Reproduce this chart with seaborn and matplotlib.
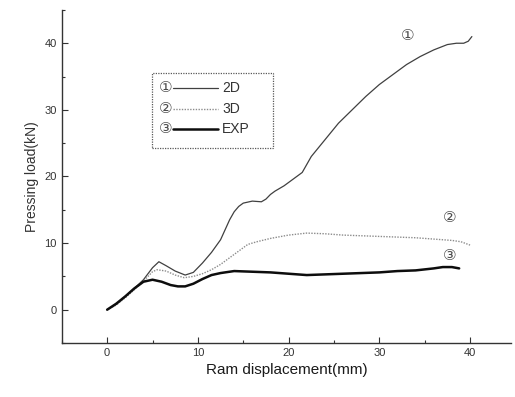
import numpy as np
import pandas as pd
import matplotlib
matplotlib.use("Agg")
import matplotlib.pyplot as plt
import seaborn as sns
from matplotlib.ticker import MultipleLocator
from matplotlib.patches import Rectangle
from matplotlib.lines import Line2D

# 2D simulation
x_2d = [0, 1, 2, 3, 4, 5, 5.7, 6.5, 7.5, 8.6, 9.5, 10.5, 11.5, 12.5, 13, 13.5, 14, 14.5, 15,
        16, 17, 17.5, 18, 18.5, 19.5, 20.5, 21.5, 22.5, 24, 25.5, 27, 28.5, 30, 31.5, 33,
        34.5, 36, 37.5, 38.5, 39.3, 39.8, 40.2]
y_2d = [0, 0.8, 2, 3.2, 4.5, 6.3, 7.2, 6.6, 5.8, 5.2, 5.6, 7, 8.6, 10.5, 12, 13.5, 14.7, 15.5,
        16, 16.3, 16.2, 16.6, 17.3, 17.8, 18.6, 19.6, 20.6, 23, 25.5, 28, 30, 32, 33.8, 35.3,
        36.8, 38, 39, 39.8, 40, 40, 40.3, 41]
# 3D simulation
x_3d = [0, 1, 2, 3, 4, 5, 5.5, 6.5, 7.5, 8.5, 9.5, 10.5, 11.5, 12.5, 13.5, 14.5, 15.5, 16.5,
        18, 20, 22, 24, 26, 28, 30, 32, 34, 36, 38, 39, 40]
y_3d = [0, 0.7, 1.8, 3, 4.3, 5.7, 6, 5.8, 5.2, 4.8, 5, 5.4, 6, 6.8, 7.8, 8.8, 9.8, 10.2,
        10.7, 11.2, 11.5, 11.4, 11.2, 11.1, 11, 10.9, 10.8, 10.6, 10.4, 10.2, 9.7]
# experiment
x_exp = [0, 1, 2, 3, 4, 5, 6, 7, 7.8, 8.6, 9.5, 10.5, 11.5, 12.5, 14, 16, 18, 20, 22, 24,
         26, 28, 30, 32, 34, 36, 37, 38, 38.8]
y_exp = [0, 0.9, 2, 3.2, 4.2, 4.5, 4.2, 3.7, 3.5, 3.5, 3.9, 4.6, 5.2, 5.5, 5.8, 5.7, 5.6, 5.4,
         5.2, 5.3, 5.4, 5.5, 5.6, 5.8, 5.9, 6.2, 6.4, 6.4, 6.2]

labels = ["2D", "3D", "EXP"]
marks = ["\u2460", "\u2461", "\u2462"]

sns.set_style("ticks")
plt.rcParams['font.family'] = ['Liberation Sans', 'DejaVu Sans']

fig = plt.figure(figsize=(5.15, 3.97), dpi=100)
ax = fig.add_axes([0.120, 0.136, 0.872, 0.839])

styles = [dict(color="0.25", lw=0.9, ls="-"),
          dict(color="0.55", lw=1.0, ls=(0, (1, 1))),
          dict(color="0.05", lw=1.8, ls="-")]

for xs, ys, st in zip([x_2d, x_3d, x_exp], [y_2d, y_3d, y_exp], styles):
    sns.lineplot(x=xs, y=ys, sort=False, ax=ax, **st)

ax.set_xlim(-5, 44.5)
ax.set_ylim(-5, 45)
ax.xaxis.set_major_locator(MultipleLocator(10))
ax.xaxis.set_minor_locator(MultipleLocator(5))
ax.yaxis.set_major_locator(MultipleLocator(10))
ax.yaxis.set_minor_locator(MultipleLocator(5))
ax.tick_params(which="both", direction="in", colors="0.2", labelsize=8, width=0.8)
ax.tick_params(which="major", length=4)
ax.tick_params(which="minor", length=2)
sns.despine(ax=ax)
for sp in ["left", "bottom"]:
    ax.spines[sp].set_linewidth(1.0)
    ax.spines[sp].set_color("0.2")

ax.set_xlabel("Ram displacement(mm)", fontsize=11, color="0.1")
ax.set_ylabel("Pressing load(kN)", fontsize=10, color="0.2")

# curve labels
for (cx, cy), mk in zip([(33.1, 41.2), (37.7, 13.8), (37.8, 8.2)], marks):
    ax.text(cx, cy, mk, fontsize=11, color="0.3", ha="center", va="center",
            family=['DejaVu Sans'])

# legend box
ax.add_patch(Rectangle((0.20, 0.585), 0.27, 0.225, transform=ax.transAxes, fill=False,
                       ec="0.35", lw=0.9, ls=(0, (1, 1))))
rows = [0.766, 0.703, 0.643]
for ry, lab, mk, st in zip(rows, labels, marks, styles):
    ax.text(0.232, ry, mk, transform=ax.transAxes, fontsize=11, color="0.3",
            ha="center", va="center", family=['DejaVu Sans'])
    ax.add_line(Line2D([0.248, 0.348], [ry, ry], transform=ax.transAxes, **st))
    ax.text(0.357, ry, lab, transform=ax.transAxes, fontsize=10, color="0.2",
            ha="left", va="center")

fig.savefig("out.png", dpi=100)
